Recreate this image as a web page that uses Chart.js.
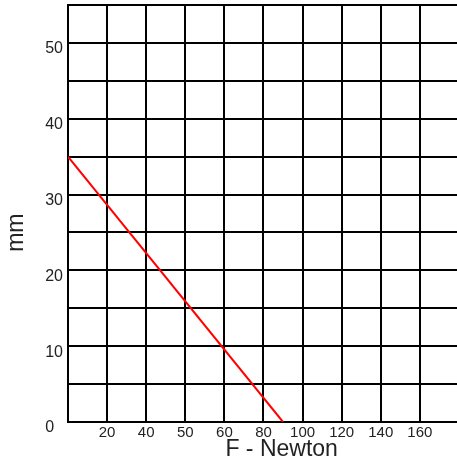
<!DOCTYPE html>
<html>
<head>
<meta charset="utf-8">
<script src="https://cdn.jsdelivr.net/npm/chart.js@4/dist/chart.umd.min.js"></script>
<style>
  html, body { margin: 0; padding: 0; background: #fff; }
  canvas { display: block; }
</style>
</head>
<body>
<canvas id="chart" width="457" height="466"></canvas>
<script>
// x is measured in grid columns, the Newton labels are not evenly spaced
const forceLabels = ["", "20", "40", "50", "60", "80", "100", "120", "140", "160"]
const columnPos = [0, 5.5]
const deflectionMm = [35, 0]

const textColor = "#222"
const gridColor = "#000"
const fontFamily = "Liberation Sans, Arial, sans-serif"

new Chart(document.getElementById("chart"), {
  type: "line",
  data: {
    datasets: [{
      data: columnPos.map((x, i) => ({ x: x, y: deflectionMm[i] })),
      borderColor: "#ff0000",
      borderWidth: 2,
      pointRadius: 0,
      fill: false,
      tension: 0
    }]
  },
  options: {
    responsive: false,
    animation: false,
    layout: { padding: { top: 5, right: 0, left: 0, bottom: 0 } },
    plugins: { legend: { display: false }, tooltip: { enabled: false } },
    scales: {
      x: {
        type: "linear",
        min: 0,
        max: 9.95,
        afterFit: scale => { scale.height = 44 },
        ticks: {
          stepSize: 1,
          includeBounds: false,
          autoSkip: false,
          maxRotation: 0,
          padding: 2,
          color: textColor,
          font: { family: fontFamily, size: 15 },
          callback: v => forceLabels[v] || ""
        },
        grid: { color: gridColor, lineWidth: 2, drawTicks: false },
        border: { color: gridColor, width: 2 },
        title: {
          display: true,
          // leading spaces push the title right, like the original
          text: "      F - Newton",
          color: textColor,
          font: { family: fontFamily, size: 23 },
          padding: { top: 0, bottom: 3 }
        }
      },
      y: {
        min: 0,
        max: 55,
        afterFit: scale => {
          scale.width = 68
          scale.paddingTop = 0
          scale.paddingBottom = 0
        },
        ticks: {
          stepSize: 5,
          padding: 5,
          labelOffset: 6,
          color: textColor,
          font: { family: fontFamily, size: 16 },
          callback: v => v === 0 ? "0  " : (v % 10 === 0 && v < 55 ? String(v) : "")
        },
        grid: { color: gridColor, lineWidth: 2, drawTicks: false },
        border: { color: gridColor, width: 2 },
        title: {
          display: true,
          text: "mm      ",
          color: textColor,
          font: { family: fontFamily, size: 23 },
          padding: { top: 3, bottom: 0 }
        }
      }
    }
  }
})
</script>
</body>
</html>
